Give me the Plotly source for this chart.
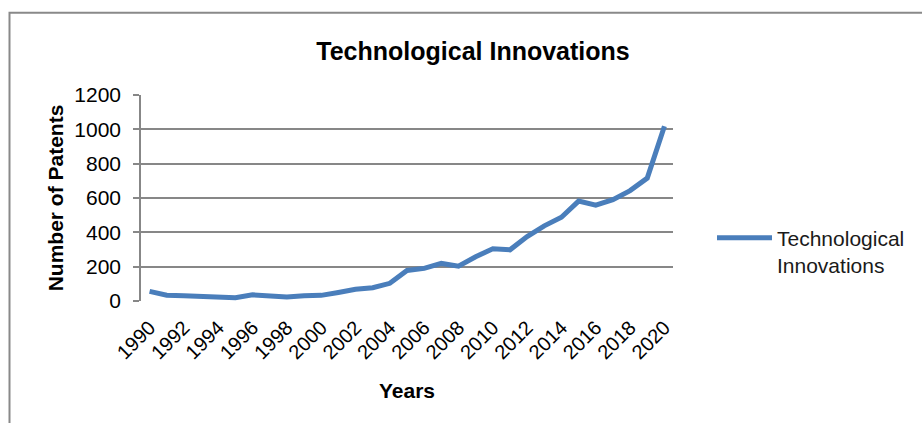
import plotly.graph_objects as go

years = list(range(1990, 2021))
patents = [56, 34, 31, 27, 18, 19, 36, 27, 23, 31, 33, 50, 68, 77, 103, 178,
           190, 219, 203, 258, 304, 298, 375, 438, 488, 582, 558, 590, 643, 716, 1018]
x_ticks = list(range(1990, 2021, 2))
y_ticks = [0, 200, 400, 600, 800, 1000, 1200]

FONT = "Arial, Liberation Sans, sans-serif"
GRID = "#878787"

fig = go.Figure()
fig.add_trace(go.Scatter(
    x=years, y=patents, mode="lines",
    name="Technological<br>Innovations",
    line=dict(color="#4A7EBB", width=5),
))

L, R, T, B = 141, 673, 95.3, 301.3
W, H = 922, 423
pw, ph = R - L, B - T

def px_to_paper_x(px):
    return (px - L) / pw

def px_to_paper_y(py):
    return (B - py) / ph

fig.update_layout(
    width=W, height=H, autosize=False,
    margin=dict(l=L, r=W - R, t=T, b=H - B, pad=0),
    paper_bgcolor="white", plot_bgcolor="white",
    font=dict(family=FONT, size=20, color="black"),
    title=dict(text="<b>Technological Innovations</b>", xref="container", yref="container",
               x=473 / W, y=1 - 51 / H, xanchor="center", yanchor="middle",
               font=dict(size=25, color="black")),
    showlegend=True,
    legend=dict(x=px_to_paper_x(712), y=px_to_paper_y(218), xanchor="left", yanchor="top",
                valign="top", itemwidth=55, bgcolor="rgba(0,0,0,0)",
                font=dict(size=21, color="#1a1a1a")),
    xaxis=dict(range=[1989.5, 2020.5], tickvals=x_ticks, ticktext=[str(v) for v in x_ticks],
               tickangle=-45, showgrid=False, zeroline=False, showline=False,
               ticks="", tickfont=dict(size=20), ticklabelstandoff=10,
               title=dict(text="<b>Years</b>", font=dict(size=21), standoff=20)),
    yaxis=dict(range=[0, 1200], tickvals=y_ticks, showgrid=True, gridcolor=GRID, gridwidth=1.5,
               zeroline=False, showline=True, linecolor=GRID, linewidth=1.5,
               ticks="outside", ticklen=6, tickcolor=GRID, tickwidth=1.5,
               ticklabelstandoff=8, tickfont=dict(size=21),
               title=dict(text="<b>Number of Patents</b>", font=dict(size=21), standoff=5)),
    shapes=[dict(type="rect", xref="paper", yref="paper",
                 x0=px_to_paper_x(9.5), x1=px_to_paper_x(935),
                 y0=px_to_paper_y(440), y1=px_to_paper_y(13),
                 line=dict(color="#898989", width=2), fillcolor="rgba(0,0,0,0)", layer="below")],
)

fig.write_html("out.html")
